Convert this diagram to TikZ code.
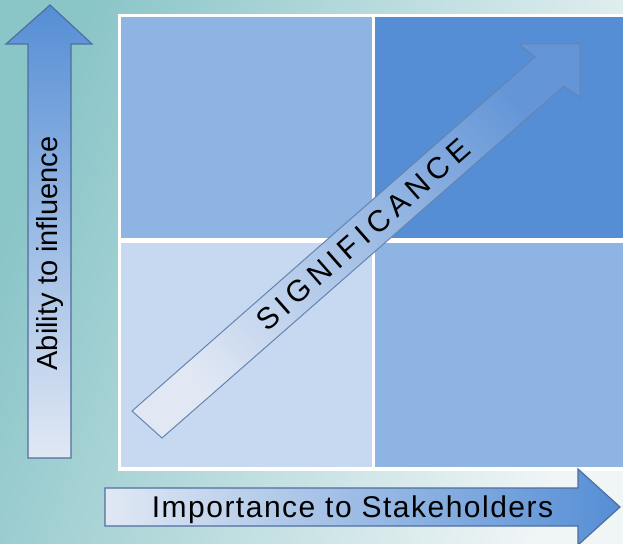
\documentclass[tikz,border=0pt]{standalone}
\usepackage{fontspec}
\setmainfont{Liberation Sans}
\newfontfamily\widefont[LetterSpace=5]{Liberation Sans}
\newfontfamily\sigfont[LetterSpace=18]{Liberation Sans}
\usepackage{tikz}
\usetikzlibrary{positioning}
\definecolor{bgteal}{RGB}{138,197,200}
\definecolor{bglight}{RGB}{240,245,246}
\definecolor{quadlight}{RGB}{198,217,241}
\definecolor{quadmid}{RGB}{142,180,227}
\definecolor{quaddark}{RGB}{85,142,213}
\definecolor{arrowpale}{RGB}{225,232,244}
\definecolor{arrowedge}{RGB}{80,110,160}
\definecolor{sigedge}{RGB}{100,132,178}
\definecolor{sigmid}{RGB}{182,203,235}
\definecolor{sighead}{RGB}{100,150,215}
\tikzset{quad/.style={fill=#1,draw=none,inner sep=0pt,outer sep=0pt},
  axis arrow/.style={draw=arrowedge,line width=1.2pt,line join=miter},
  axis text/.style={inner sep=0pt,text=black,font=\fontsize{29}{30}\selectfont},}

\begin{document}
\begin{tikzpicture}[x=1pt,y=-1pt]
	\useasboundingbox (0,0) rectangle (623,543);
	\shade[left color=bgteal,right color=bglight,shading angle=70] (0,0) rectangle (623,543);

	% the four quadrants on a white frame
	\fill[white] (118,14) rectangle (623,471);
	\node[quad=quadmid, minimum width=251pt, minimum height=221pt, anchor=north west] (tl) at (121,17) {};
	\node[quad=quaddark, minimum width=248pt, minimum height=221pt] (tr) [right = 3pt of tl] {};
	\node[quad=quadlight, minimum width=251pt, minimum height=224pt] (bl) [below = 5pt of tl] {};
	\node[quad=quadmid, minimum width=248pt, minimum height=224pt] (br) [right = 3pt of bl] {};

	% axis arrows
	\shadedraw[axis arrow, top color=quaddark, bottom color=arrowpale]
	    (28,458) -- (28,44) -- (6,44) -- (50,5) -- (92,44) -- (71,44) -- (71,458) -- cycle;
	\shadedraw[axis arrow, left color=arrowpale, right color=quaddark]
	    (105,488) -- (578,488) -- (578,469) -- (620,507) -- (578,545) -- (578,526) -- (105,526) -- cycle;

	% significance arrow
	\shadedraw[draw=sigedge, line width=1pt, left color=arrowpale, middle color=sigmid, right color=sighead, shading angle=131]
	    (132,411) -- (535,57) -- (519,44) -- (580,44) -- (580,97) -- (564,86) -- (162,438) -- cycle;

	\node[axis text, rotate=90, anchor=base] (ability) at (57,253.5) {Ability to influence};
	\node[axis text, font=\widefont\fontsize{30}{31}\selectfont, anchor=base] (importance) at (352.5,517) {Importance to Stakeholders};
	\node[axis text, font=\sigfont\fontsize{30}{31}\selectfont, rotate=41.3] (significance) at (363,235) {SIGNIFICANCE};
\end{tikzpicture}
\end{document}
